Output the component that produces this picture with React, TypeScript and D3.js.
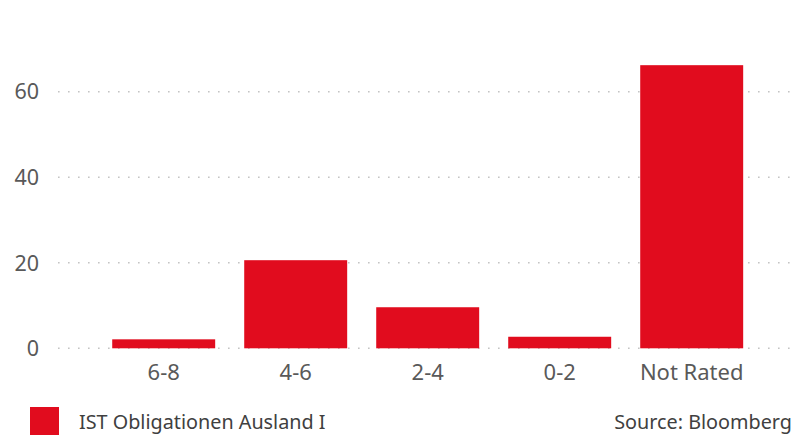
import React, { useEffect, useRef } from "react";
import * as d3 from "d3";

const categories = ["6-8", "4-6", "2-4", "0-2", "Not Rated"];
const values = [2.1, 20.6, 9.6, 2.7, 66.2];
const yTicks = [0, 20, 40, 60];
const seriesName = "IST Obligationen Ausland I";
const sourceText = "Source: Bloomberg";

const width = 805;
const height = 435;
const red = "#e10c1e";
const textColor = "#595959";
const font = "'Noto Sans', 'Open Sans', sans-serif";

export default function App() {
  const ref = useRef<SVGSVGElement>(null);

  useEffect(() => {
    const svg = d3.select(ref.current);
    svg.selectAll("*").remove();

    // scales
    const x = d3
      .scaleBand()
      .domain(categories)
      .range([97.7, 757.7])
      .paddingInner(0.22)
      .paddingOuter(0.11);

    const y = d3.scaleLinear().domain([0, 60]).range([348.3, 91.7]);

    // dotted gridlines
    svg
      .append("g")
      .selectAll("line")
      .data(yTicks)
      .join("line")
      .attr("x1", 58)
      .attr("x2", 796)
      .attr("y1", (d) => y(d))
      .attr("y2", (d) => y(d))
      .attr("stroke", "#c4c4c4")
      .attr("stroke-width", 1.6)
      .attr("stroke-dasharray", "1.6 8.4");

    // y labels
    svg
      .append("g")
      .selectAll("text")
      .data(yTicks)
      .join("text")
      .attr("x", 39)
      .attr("y", (d) => y(d))
      .attr("dy", "0.36em")
      .attr("text-anchor", "end")
      .attr("font-family", font)
      .attr("font-size", 21.5)
      .attr("fill", textColor)
      .text((d) => d);

    // bars
    svg
      .append("g")
      .selectAll("rect")
      .data(values)
      .join("rect")
      .attr("x", (d, i) => x(categories[i]) as number)
      .attr("y", (d) => y(d))
      .attr("width", x.bandwidth())
      .attr("height", (d) => y(0) - y(d))
      .attr("fill", red);

    // x labels
    svg
      .append("g")
      .selectAll("text")
      .data(categories)
      .join("text")
      .attr("x", (d) => (x(d) as number) + x.bandwidth() / 2)
      .attr("y", 380)
      .attr("text-anchor", "middle")
      .attr("font-family", font)
      .attr("font-size", 22)
      .attr("fill", textColor)
      .text((d) => d);

    // legend
    svg
      .append("rect")
      .attr("x", 30)
      .attr("y", 407)
      .attr("width", 29)
      .attr("height", 28)
      .attr("fill", red);

    svg
      .append("text")
      .attr("x", 79)
      .attr("y", 429)
      .attr("font-family", font)
      .attr("font-size", 19.8)
      .attr("fill", "#404040")
      .text(seriesName);

    svg
      .append("text")
      .attr("x", 792)
      .attr("y", 429)
      .attr("text-anchor", "end")
      .attr("font-family", font)
      .attr("font-size", 19.8)
      .attr("fill", "#404040")
      .text(sourceText);
  }, []);

  return (
    <div style={{ position: "fixed", left: 0, top: 0 }}>
      <svg ref={ref} width={width} height={height} style={{ display: "block", background: "#fff" }} />
    </div>
  );
}
